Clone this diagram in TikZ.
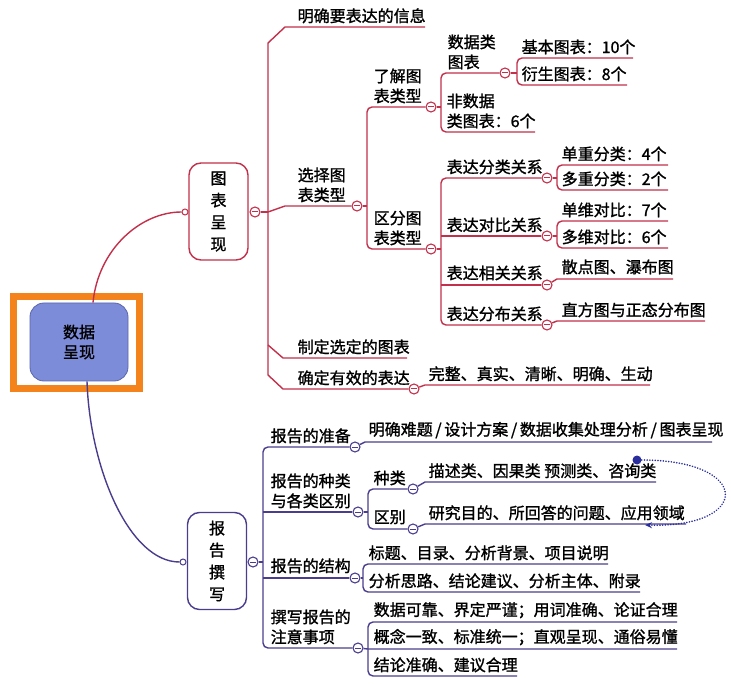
\documentclass[tikz,border=0pt]{standalone}
\usepackage{fontspec}
\newfontfamily\cjk{Noto Sans CJK SC}[FakeBold=1.3]
\usetikzlibrary{arrows.meta,shadows,backgrounds}
\definecolor{mapred}{HTML}{C2304B}
\definecolor{mappurple}{HTML}{4B3D8E}
\definecolor{rootblue}{HTML}{7D8CD8}
\definecolor{rootedge}{HTML}{5A67AE}
\definecolor{frameorange}{HTML}{F5831C}
\definecolor{dotblue}{HTML}{2A2E9C}
\newcommand{\mapfont}{\cjk\fontsize{16}{20}\selectfont}
\tikzset{branch/.style={line width=1.4pt},
  lbl/.style={anchor=south west, inner sep=0pt, align=left, font=\mapfont},
  foldpt/.style={circle, draw, fill=white, line width=1.1pt, inner sep=0pt, minimum size=10pt,
    path picture={\draw[line width=1pt] ([xshift=-2.6pt]path picture bounding box.center) -- ([xshift=2.6pt]path picture bounding box.center);}},
  joinpt/.style={circle, draw, fill=white, line width=1pt, inner sep=0pt, minimum size=6pt},
  topicbox/.style={draw, fill=white, line width=1.4pt, rounded corners=12pt, minimum width=59pt, minimum height=97pt, align=center, font=\cjk\fontsize{16}{22}\selectfont},
  rootbox/.style={fill=rootblue, draw=rootedge, line width=0.8pt, rounded corners=14pt, minimum width=98pt, minimum height=78pt, align=center, font=\mapfont}}

\begin{document}
\begin{tikzpicture}[x=1pt,y=-1pt]
\useasboundingbox (0,0) rectangle (731,684);

% root and frame
\node[rootbox] (root) at (79,342) {数据\\呈现};
\begin{scope}[on background layer]
\node[draw=frameorange, fill=white, line width=7pt, minimum width=126pt, minimum height=92pt,
  drop shadow={shadow xshift=3pt, shadow yshift=-3pt, opacity=0.45}] (rootframe) at (76.5,342.5) {};
\end{scope}

% topics
\node[topicbox, draw=mapred] (tbl) at (218.5,211.5) {图\\表\\呈\\现};
\node[topicbox, draw=mappurple] (rpt) at (217,561) {报\\告\\撰\\写};
\node[joinpt, draw=mapred] (tblin) at (185,212) {};
\node[joinpt, draw=mappurple] (rptin) at (183,562) {};

\draw[branch, mapred] ([xshift=14pt]root.north) .. controls (98,250) and (140,212) .. (tblin);
\draw[branch, mappurple] ([xshift=8pt]root.south) .. controls (90,470) and (130,562) .. (rptin);

% upper branch
\begin{scope}[branch, draw=mapred]
\node[foldpt] (tblout) at (255,212) {};
\node[foldpt] (xzout) at (357,206) {};
\node[foldpt] (ljout) at (431,107) {};
\node[foldpt] (qfout) at (431,249) {};
\node[foldpt] (sjout) at (505,73) {};
\node[foldpt] (flout) at (547,178) {};
\node[foldpt] (dbout) at (547,236) {};
\node[foldpt] (xgout) at (547,285) {};
\node[foldpt] (fbout) at (547,325) {};
\node[foldpt] (qdout) at (414,389) {};

\node[lbl] (mq) at (297,24) {明确要表达的信息};
\node[lbl] (xz) at (297,203) {选择图\\表类型};
\node[lbl] (zd) at (297,355) {制定选定的图表};
\node[lbl] (qd) at (297,386) {确定有效的表达};
\node[lbl] (wz) at (428,382) {完整、真实、清晰、明确、生动};
\node[lbl] (lj) at (373,104) {了解图\\表类型};
\node[lbl] (qf) at (373,246) {区分图\\表类型};
\node[lbl] (sj) at (447,70) {数据类\\图表};
\node[lbl] (fsj) at (446,129) {非数据\\类图表：6个};
\node[lbl] (jb) at (521,55) {基本图表：10个};
\node[lbl] (ys) at (521,82) {衍生图表：8个};
\node[lbl] (fl) at (446,175) {表达分类关系};
\node[lbl] (db) at (446,233) {表达对比关系};
\node[lbl] (xg) at (446,281) {表达相关关系};
\node[lbl] (fb) at (446,322) {表达分布关系};
\node[lbl] (dcfl) at (561,162) {单重分类：4个};
\node[lbl] (ddfl) at (561,187) {多重分类：2个};
\node[lbl] (dwdb) at (561,218) {单维对比：7个};
\node[lbl] (ddwdb) at (561,245) {多维对比：6个};
\node[lbl] (sd) at (561,275) {散点图、瀑布图};
\node[lbl] (zf) at (561,318) {直方图与正态分布图};

\draw (tblout) -- (268,212);
\draw (425,27) -- (285,27) -- (268,43) -- (268,375) -- (283,389) -- (qdout);
\draw (268,345) -- (283,358) -- (407,358);
\draw (268,212) -- (285,206) -- (xzout);
\draw (qdout) -- (425,385) -- (650,385);
\draw[rounded corners=5pt] (ljout) -- (367,107) -- (367,249) -- (qfout);
\draw (xzout) -- (367,206);
\draw[rounded corners=5pt] (sjout) -- (441,73) -- (441,132) -- (535,132);
\draw (ljout) -- (441,107);
\draw[rounded corners=5pt] (633,58) -- (517,58) -- (517,85) -- (627,85);
\draw (sjout) -- (517,73);
\draw[rounded corners=5pt] (flout) -- (441,178) -- (441,325) -- (fbout);
\draw (qfout) -- (441,249);
\draw (441,236) -- (dbout);
\draw (441,285) -- (xgout);
\draw[rounded corners=5pt] (668,165) -- (557,165) -- (557,190) -- (668,190);
\draw (flout) -- (557,178);
\draw[rounded corners=5pt] (668,221) -- (557,221) -- (557,248) -- (668,248);
\draw (dbout) -- (557,236);
\draw (xgout) -- (557,279) -- (673,279);
\draw (fbout) -- (557,321) -- (705,321);
\end{scope}

% lower branch
\begin{scope}[branch, draw=mappurple]
\node[foldpt] (rptout) at (253,562) {};
\node[foldpt] (zbout) at (355,447) {};
\node[foldpt] (zlout) at (358,512) {};
\node[foldpt] (jgout) at (355,578) {};
\node[foldpt] (zyout) at (358,648) {};
\node[foldpt] (zlkout) at (413,489) {};
\node[foldpt] (qbout) at (413,529) {};

\node[lbl] (zb) at (270,444) {报告的准备};
\node[lbl] (zl) at (270,509) {报告的种类\\与各类区别};
\node[lbl] (jg) at (270,574) {报告的结构};
\node[lbl] (zy) at (270,645) {撰写报告的\\注意事项};
\node[lbl] (mqnt) at (368,439) {明确难题\,/\,设计方案\,/\,数据收集处理分析\,/\,图表呈现};
\node[lbl] (zlk) at (373,486) {种类};
\node[lbl] (qb) at (373,525) {区别};
\node[lbl] (ms) at (428,479) {描述类、因果类 预测类、咨询类};
\node[lbl] (yj) at (428,521) {研究目的、所回答的问题、应用领域};
\node[lbl] (bt) at (368,561) {标题、目录、分析背景、项目说明};
\node[lbl] (fx) at (368,589) {分析思路、结论建议、分析主体、附录};
\node[lbl] (kk) at (373,619) {数据可靠、界定严谨；用词准确、论证合理};
\node[lbl] (yz) at (373,646) {概念一致、标准统一；直观呈现、通俗易懂};
\node[lbl] (jl) at (373,673) {结论准确、建议合理};

\draw (rptout) -- (263,562);
\draw[rounded corners=5pt] (zbout) -- (263,447) -- (263,648) -- (zyout);
\draw (263,512) -- (zlout);
\draw (263,578) -- (jgout);
\draw (zbout) -- (365,442) -- (712,442);
\draw[rounded corners=5pt] (zlkout) -- (368,489) -- (368,529) -- (qbout);
\draw (zlout) -- (368,512);
\draw (zlkout) -- (425,482) -- (656,482);
\draw (qbout) -- (425,524) -- (686,524);
\draw[rounded corners=5pt] (608,564) -- (363,564) -- (363,592) -- (640,592);
\draw (jgout) -- (363,578);
\draw[rounded corners=5pt] (677,622) -- (368,622) -- (368,676) -- (517,676);
\draw (zyout) -- (368,649) -- (677,649);
\end{scope}

% dotted link
\node[circle, fill=dotblue, inner sep=0pt, minimum size=9pt] (dotstart) at (637,460) {};
\coordinate (dotend) at (645,525);
\draw[dotblue, line width=1.7pt, dash pattern=on 0.1pt off 2.6pt, line cap=round, -{Stealth[length=7pt,width=6pt]}]
  (dotstart) .. controls (752,460) and (752,528) .. (dotend);
\end{tikzpicture}
\end{document}
